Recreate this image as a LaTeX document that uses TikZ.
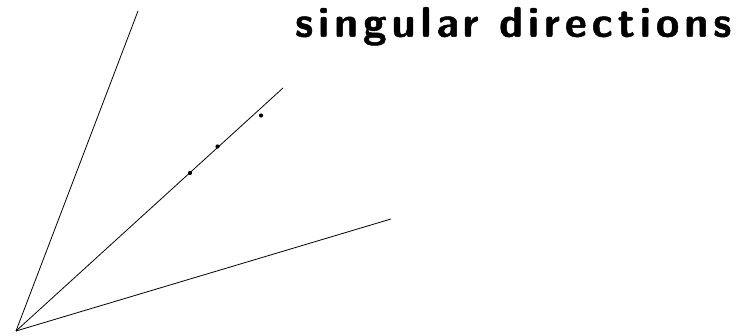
\documentclass[tikz,border=0pt]{standalone}
\usepackage{fontspec}
\newfontfamily\titlefont{lmsans10-bold.otf}[LetterSpace=12, FakeBold=1.2]
\begin{document}
\begin{tikzpicture}[x=1pt,y=-1pt,
  ray/.style={line width=0.8pt,black},
  pt/.style={circle,fill=black,inner sep=0pt,minimum size=4.2pt},
  title/.style={font=\titlefont\fontsize{42.5}{46}\selectfont,inner sep=0pt,anchor=base west}]
\useasboundingbox (0,0) rectangle (742,336);
\coordinate (o) at (16,331);
\coordinate (a) at (138,11);
\coordinate (b) at (283,88);
\coordinate (c) at (391,219);
\draw[ray] (o) -- (a);
\draw[ray] (o) -- (b);
\draw[ray] (o) -- (c);
\node[pt] (p1) at (190,173) {};
\node[pt] (p2) at (217.5,146.5) {};
\node[pt] (p3) at (261,115.5) {};
\node[title] (t) at (295,36.7) {singular directions};
\end{tikzpicture}
\end{document}
